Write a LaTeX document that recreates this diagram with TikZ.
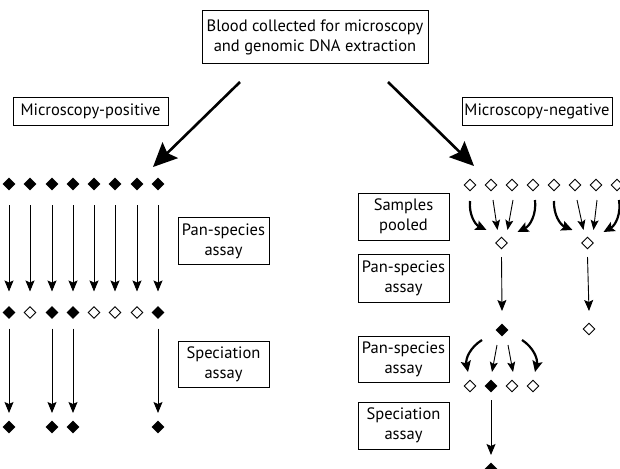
\documentclass[tikz,border=0pt]{standalone}
\usepackage{fontspec}
\setmainfont{PT Sans}
\usetikzlibrary{arrows.meta,shapes.geometric}
\begin{document}
\begin{tikzpicture}[x=1pt,y=-1pt,
  lbl/.style={draw,line width=1pt,align=center,font=\fontsize{16.5}{20}\selectfont,inner sep=0pt},
  dfill/.style={diamond,fill=black,inner sep=0pt,minimum width=13pt,minimum height=13pt},
  dopen/.style={diamond,draw=black,line width=0.9pt,fill=white,inner sep=0pt,minimum width=12pt,minimum height=12pt},
  varr/.style={line width=0.9pt,-{Stealth[length=11pt,width=9pt,inset=2pt]}},
  fthin/.style={line width=0.9pt,-{Stealth[length=10pt,width=8pt,inset=2pt]}},
  fthick/.style={line width=2.2pt,-{Stealth[length=11pt,width=10pt,inset=2pt]}},
  big/.style={line width=2.6pt,-{Stealth[length=24pt,width=22pt,inset=4pt]}}]
\useasboundingbox (0,0) rectangle (620,468);
\clip (0,0) rectangle (620,468);
% boxes
\node[lbl,minimum width=226pt,minimum height=53pt] (top) at (315,37.5) {Blood collected for microscopy\\and genomic DNA extraction};
\node[lbl,minimum width=155pt,minimum height=28pt] (pos) at (90.5,111.5) {Microscopy-positive};
\node[lbl,minimum width=150pt,minimum height=28pt] (neg) at (537,111.5) {Microscopy-negative};
\node[lbl,minimum width=91pt,minimum height=47pt] (lpan) at (223.5,241) {Pan-species\\assay};
\node[lbl,minimum width=91pt,minimum height=46pt] (lspe) at (223.5,364.5) {Speciation\\assay};
\node[lbl,minimum width=91pt,minimum height=47pt] (pool) at (403.5,216.5) {Samples\\pooled};
\node[lbl,minimum width=91pt,minimum height=48pt] (rpan1) at (403.5,278) {Pan-species\\assay};
\node[lbl,minimum width=91pt,minimum height=46pt] (rpan2) at (403.5,359) {Pan-species\\assay};
\node[lbl,minimum width=91pt,minimum height=47pt] (rspe) at (403.5,425.5) {Speciation\\assay};
% big arrows
\coordinate (tl) at (153,167);
\coordinate (tr) at (474,166);
\draw[big] ([shift={(-75,44.5)}]top.center) -- (tl);
\draw[big] ([shift={(73,44.5)}]top.center) -- (tr);
% left diamonds
\foreach \i/\x in {1/9,2/30,3/52,4/73,5/94,6/115,7/137,8/158}{
  \node[dfill] (a\i) at (\x,184) {};
}
\foreach \i/\x/\s in {1/9/dfill,2/30/dopen,3/52/dfill,4/73/dfill,5/94/dopen,6/115/dopen,7/137/dopen,8/158/dfill}{
  \node[\s] (b\i) at (\x,312.5) {};
}
\foreach \i/\x in {1/9,3/52,4/73,8/158}{
  \node[dfill] (c\i) at (\x,427) {};
}
\foreach \i in {1,...,8}{
  \draw[varr] ([shift={(0,21)}]a\i.center) -- ([shift={(0,-21)}]b\i.center);
}
\foreach \i in {1,3,4,8}{
  \draw[varr] ([shift={(0,16)}]b\i.center) -- ([shift={(0,-14)}]c\i.center);
}
% right side top row
\foreach \i/\x in {1/470,2/491,3/512,4/533,5/554,6/575,7/596,8/617}{
  \node[dopen] (r\i) at (\x,185) {};
}
\node[dopen] (p1) at (501.5,243) {};
\node[dopen] (p2) at (587.5,243) {};
% fans to pools
\draw[fthick] ([shift={(0,16)}]r1.center) to[bend right=35] ([shift={(-15,-13)}]p1.center);
\draw[fthin] ([shift={(2,15)}]r2.center) -- ([shift={(-4,-13)}]p1.center);
\draw[fthin] ([shift={(1,15)}]r3.center) -- ([shift={(6,-13)}]p1.center);
\draw[fthick] ([shift={(2,15)}]r4.center) to[bend left=35] ([shift={(16,-11)}]p1.center);
\draw[fthick] ([shift={(0,16)}]r5.center) to[bend right=35] ([shift={(-15,-13)}]p2.center);
\draw[fthin] ([shift={(2,15)}]r6.center) -- ([shift={(-4,-13)}]p2.center);
\draw[fthin] ([shift={(1,15)}]r7.center) -- ([shift={(6,-13)}]p2.center);
\draw[fthick] ([shift={(2,15)}]r8.center) to[bend left=35] ([shift={(16,-11)}]p2.center);
% pooled to results
\node[dfill] (q1) at (502,330) {};
\node[dopen] (q2) at (589,329) {};
\draw[varr] ([shift={(0,14)}]p1.center) -- ([shift={(0,-19)}]q1.center);
\draw[varr] ([shift={(0,14)}]p2.center) -- ([shift={(0,-18)}]q2.center);
% second fan
\node[dopen] (s1) at (470,386) {};
\node[dfill] (s2) at (491,386) {};
\node[dopen] (s3) at (512,386) {};
\node[dopen] (s4) at (533,386) {};
\draw[fthick] ([shift={(-20,10)}]q1.center) to[bend right=35] ([shift={(-2,-14)}]s1.center);
\draw[fthin] ([shift={(-5,15)}]q1.center) -- ([shift={(1,-14)}]s2.center);
\draw[fthin] ([shift={(6,15)}]q1.center) -- ([shift={(1,-14)}]s3.center);
\draw[fthick] ([shift={(20,10)}]q1.center) to[bend left=35] ([shift={(2,-14)}]s4.center);
% final
\node[dfill] (t1) at (491,469) {};
\draw[varr] ([shift={(0,14)}]s2.center) -- ([shift={(0,-14)}]t1.center);
\end{tikzpicture}
\end{document}
